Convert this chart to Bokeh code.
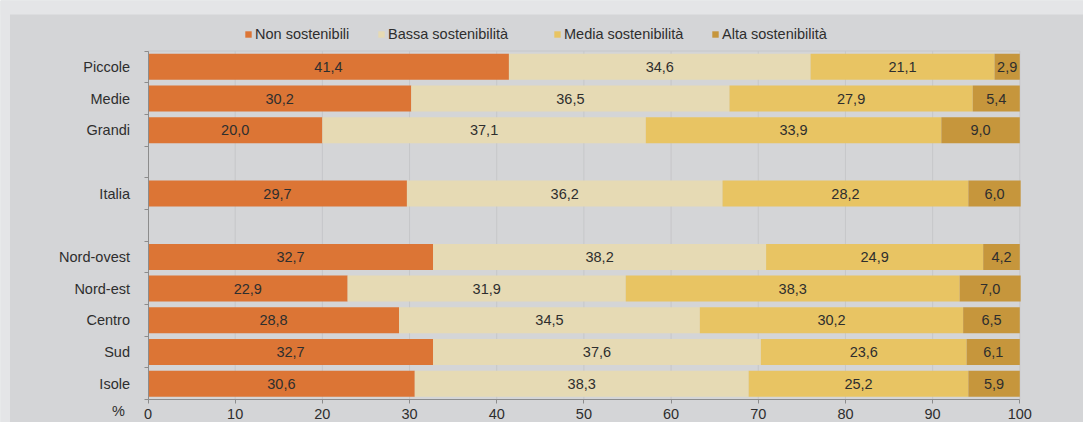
from bokeh.plotting import figure
from bokeh.models import ColumnDataSource, FixedTicker, Legend, LegendItem, Label, BoxAnnotation
from bokeh.core.properties import value
from bokeh.embed import file_html
from bokeh.resources import INLINE

categories = ["Piccole", "Medie", "Grandi", "Italia", "Nord-ovest", "Nord-est", "Centro", "Sud", "Isole"]
row_pos = [0.5, 1.5, 2.5, 4.5, 6.5, 7.5, 8.5, 9.5, 10.5]
series = ["Non sostenibili", "Bassa sostenibilità", "Media sostenibilità", "Alta sostenibilità"]
non_sost = [41.4, 30.2, 20.0, 29.7, 32.7, 22.9, 28.8, 32.7, 30.6]
bassa = [34.6, 36.5, 37.1, 36.2, 38.2, 31.9, 34.5, 37.6, 38.3]
media = [21.1, 27.9, 33.9, 28.2, 24.9, 38.3, 30.2, 23.6, 25.2]
alta = [2.9, 5.4, 9.0, 6.0, 4.2, 7.0, 6.5, 6.1, 5.9]
x_ticks = [0, 10, 20, 30, 40, 50, 60, 70, 80, 90, 100]
colors = ["#dc7535", "#e6dab4", "#e8c463", "#c6963c"]

FONT = "Liberation Sans"
FS = "14.5px"
TXT = "#2e2e2e"
BG = "#d4d5d7"
OUTER = "#e4e5e7"
AXC = "#8c8c8c"
GRIDC = "#c6c7c9"

W, H = 1083, 422
# frame spans the whole canvas; ranges chosen so the plot area sits where the reference has it
px_per_x = (1019.3 - 147.5) / 100.0
px_per_y = (399.0 - 50.5) / 11.0
x_start = -147.5 / px_per_x
x_end = 100 + (W - 1019.3) / px_per_x
y_top = -50.5 / px_per_y
y_bottom = 11 + (H - 399.0) / px_per_y

values = [non_sost, bassa, media, alta]
keys = ["s0", "s1", "s2", "s3"]
data = {"y": row_pos}
for k, v in zip(keys, values):
    data[k] = v
source = ColumnDataSource(data)

p = figure(width=W, height=H, output_backend="svg", toolbar_location=None,
           x_range=(x_start, x_end), y_range=(y_bottom, y_top), min_border=0)
p.min_border_left = p.min_border_right = p.min_border_top = p.min_border_bottom = 0
p.background_fill_color = BG
p.border_fill_color = BG
p.outline_line_color = None
p.grid.visible = False

# outer light strips (top and left of the panel)
p.add_layout(BoxAnnotation(top=y_top, bottom=y_top + 14 / px_per_y, left=x_start, right=x_end,
                           fill_color=OUTER, fill_alpha=1, line_color=None, level="underlay"))
p.add_layout(BoxAnnotation(top=y_top, bottom=y_bottom, left=x_start, right=x_start + 9.5 / px_per_x,
                           fill_color=OUTER, fill_alpha=1, line_color=None, level="underlay"))

# gridlines restricted to the plot area, plus top border
gx = x_ticks[1:]
p.segment(x0=gx, y0=[0] * len(gx), x1=gx, y1=[11] * len(gx), line_color=GRIDC, line_width=1)
p.segment(x0=[0], y0=[0], x1=[100], y1=[0], line_color=GRIDC, line_width=1)

renderers = p.hbar_stack(keys, y="y", height=0.82, color=colors, line_color=None, source=source)

# value labels
tx, ty, tt = [], [], []
for i, y in enumerate(row_pos):
    left = 0.0
    for v in values:
        seg = v[i]
        tx.append(left + seg / 2)
        ty.append(y)
        tt.append(f"{seg:.1f}".replace(".", ","))
        left += seg
p.text(x=tx, y=ty, text=tt, text_align="center", text_baseline="middle",
       text_font=value(FONT), text_font_size=FS, text_color=TXT)

# axes (fixed inside the full-canvas frame)
p.xaxis.fixed_location = 11
p.xaxis.bounds = (0, 100)
p.xaxis.ticker = FixedTicker(ticks=x_ticks)
p.xaxis.major_tick_in = 0
p.xaxis.major_tick_out = 4
p.xaxis.minor_tick_line_color = None
p.xaxis.axis_line_color = AXC
p.xaxis.major_tick_line_color = AXC
p.xaxis.major_label_text_font = FONT
p.xaxis.major_label_text_font_size = FS
p.xaxis.major_label_text_color = TXT
p.xaxis.major_label_standoff = 5

p.yaxis.fixed_location = 0
p.yaxis.bounds = (0, 11)
p.yaxis.ticker = FixedTicker(ticks=row_pos, minor_ticks=list(range(12)))
p.yaxis.major_label_overrides = {float(y): c for y, c in zip(row_pos, categories)}
p.yaxis.major_tick_line_color = None
p.yaxis.major_tick_in = 0
p.yaxis.major_tick_out = 0
p.yaxis.minor_tick_in = 0
p.yaxis.minor_tick_out = 4
p.yaxis.minor_tick_line_color = AXC
p.yaxis.axis_line_color = AXC
p.yaxis.major_label_text_font = FONT
p.yaxis.major_label_text_font_size = FS
p.yaxis.major_label_text_color = TXT
p.yaxis.major_label_standoff = 14

p.add_layout(Label(x=(118 - 147.5) / px_per_x, y=11 + (410.5 - 399) / px_per_y, text="%",
                   text_font=FONT, text_font_size=FS, text_color=TXT,
                   text_align="center", text_baseline="middle"))

# legend: one block per item, positioned like the reference
legend_x = [244, 377, 553, 711]
for s, r, lx in zip(series, renderers, legend_x):
    lg = Legend(items=[LegendItem(label=s, renderers=[r])],
                orientation="horizontal", location=(lx, H - 43.5),
                glyph_width=8, glyph_height=8, label_standoff=3, label_height=20,
                padding=0, margin=0,
                label_text_font=FONT, label_text_font_size=FS, label_text_color=TXT,
                background_fill_alpha=0, border_line_alpha=0)
    p.add_layout(lg, "center")

open("out.html", "w").write(file_html(p, INLINE))
